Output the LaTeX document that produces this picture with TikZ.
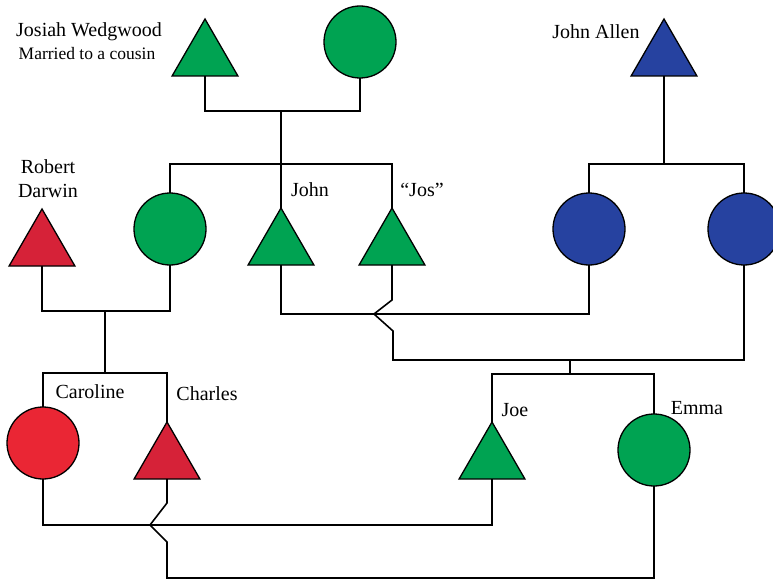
\documentclass[tikz,border=0pt]{standalone}
\usepackage{fontspec}
\setmainfont{Liberation Serif}
\usetikzlibrary{shapes.geometric}
\definecolor{pgreen}{RGB}{0,163,82}
\definecolor{pred}{RGB}{234,38,52}
\definecolor{pdred}{RGB}{214,34,56}
\definecolor{pblue}{RGB}{38,66,160}
\tikzset{
  male/.style={regular polygon, regular polygon sides=3, minimum size=76pt, inner sep=0pt, outer sep=0pt, draw=black, line width=1.3pt},
  female/.style={circle, minimum size=72pt, inner sep=0pt, outer sep=0pt, draw=black, line width=1.3pt},
  link/.style={line width=1.6pt, line join=miter},
  lbl/.style={font=\fontsize{20}{22}\selectfont, inner sep=0pt},
  sublbl/.style={font=\fontsize{17.5}{20}\selectfont, inner sep=0pt}
}
\begin{document}
\begin{tikzpicture}[x=1pt,y=-1pt]
\useasboundingbox (0,0) rectangle (773,580);
% people
\node[male,fill=pgreen] (josiah) at (205,57) {};
\node[female,fill=pgreen] (jwife) at (360,42) {};
\node[male,fill=pblue] (jallen) at (664,57) {};
\node[male,fill=pdred] (robert) at (42,247) {};
\node[female,fill=pgreen] (dwife) at (170,229) {};
\node[male,fill=pgreen] (john) at (281,246) {};
\node[male,fill=pgreen] (jos) at (392,246) {};
\node[female,fill=pblue] (allen1) at (589,229) {};
\node[female,fill=pblue] (allen2) at (744,229) {};
\node[female,fill=pred] (caroline) at (43,443) {};
\node[male,fill=pdred] (charles) at (167,460) {};
\node[male,fill=pgreen] (joe) at (492,460) {};
\node[female,fill=pgreen] (emma) at (654,450) {};
% labels
\node[lbl] (tjosiah) at (89,32) {Josiah Wedgwood};
\node[sublbl] (tcousin) at (87,54) {Married to a cousin};
\node[lbl] (tallen) at (596,32) {John Allen};
\node[lbl] (trobert) at (48,167) {Robert};
\node[lbl] (tdarwin) at (48,191) {Darwin};
\node[lbl] (tjohn) at (310,190) {John};
\node[lbl] (tjos) at (422,190) {“Jos”};
\node[lbl] (tcaroline) at (90,392) {Caroline};
\node[lbl] (tcharles) at (207,394) {Charles};
\node[lbl] (tjoe) at (515,410) {Joe};
\node[lbl] (temma) at (697,408) {Emma};
% junction points
\coordinate (m1) at (281,111);
\coordinate (s1) at (281,164);
\coordinate (s2) at (664,164);
\coordinate (m2) at (105,311);
\coordinate (s3) at (105,373);
\coordinate (m3) at (480,314);
\coordinate (m4) at (570,360);
\coordinate (s4) at (570,374);
\coordinate (m5) at (300,525);
\coordinate (m6) at (400,578);
% connectors
\draw[link] (josiah.south) |- (m1) -| (jwife.south);
\draw[link] (m1) -- (s1);
\draw[link] (dwife.north) |- (s1) -| (jos.north);
\draw[link] (s1) -- (john.north);
\draw[link] (jallen.south) -- (s2);
\draw[link] (allen1.north) |- (s2) -| (allen2.north);
\draw[link] (robert.south) |- (m2) -| (dwife.south);
\draw[link] (m2) -- (s3);
\draw[link] (caroline.north) |- (s3) -| (charles.north);
\draw[link] (john.south) |- (m3) -| (allen1.south);
\draw[link] (jos.south) -- ++(0,35) -- ++(-18,14) -- ++(19,17) |- (m4) -| (allen2.south);
\draw[link] (m4) -- (s4);
\draw[link] (joe.north) |- (s4) -| (emma.north);
\draw[link] (caroline.south) |- (m5) -| (joe.south);
\draw[link] (charles.south) -- ++(0,24) -- ++(-17,22) -- ++(17,17) |- (m6) -| (emma.south);
\end{tikzpicture}
\end{document}
